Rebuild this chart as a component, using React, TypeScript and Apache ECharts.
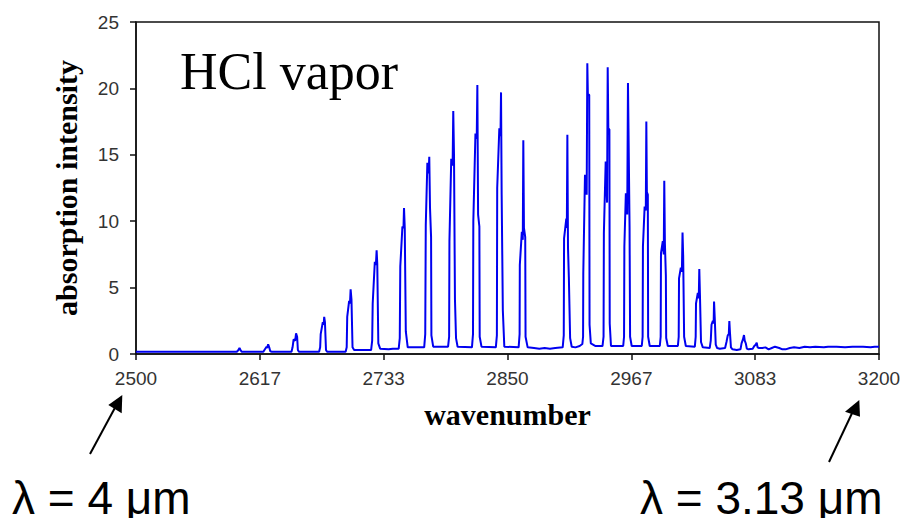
import React, { useEffect, useRef } from "react";
import * as echarts from "echarts";

// x ticks (wavenumber, cm^-1) and their printed labels
const xTickValues = [2500, 2616.667, 2733.333, 2850, 2966.667, 3083.333, 3200];
const xTickLabels = ["2500", "2617", "2733", "2850", "2967", "3083", "3200"];
const yTickValues = [0, 5, 10, 15, 20, 25];

// spectrum: [wavenumber, absorption intensity]
const lowWing: [number, number][] = [
  [2500, 0.17], [2595, 0.17],
  [2596.5, 0.3], [2597.5, 0.45], [2598.5, 0.3], [2599.5, 0.17],
  [2620, 0.17],
  [2621, 0.3], [2623, 0.55], [2623.5, 0.45], [2624.5, 0.73], [2625.5, 0.5], [2626.5, 0.2], [2628, 0.17],
  [2646.5, 0.17],
  [2647.5, 0.5], [2648.5, 1.1], [2650, 1.0], [2650.8, 1.56], [2651.8, 1.3], [2652.5, 0.3], [2653.5, 0.17],
  [2672.5, 0.17],
  [2673.5, 0.5], [2674, 1.5], [2676, 2.4], [2676.8, 2.2], [2677.3, 2.8], [2678, 2.4], [2679, 0.3], [2680, 0.17],
  [2697.5, 0.17],
];

const pBranch: [number, number][] = [
  [2698.5, 0.5], [2699, 2.8], [2700.8, 4.0], [2701.6, 3.8], [2702.2, 4.87], [2703, 4.1], [2704, 0.5], [2705.5, 0.3],
  [2721.5, 0.3],
  [2722.5, 1.0], [2723, 3.8], [2725, 6.95], [2726, 6.7], [2726.7, 7.8], [2727.3, 6.8], [2728.3, 0.8], [2730, 0.4],
  [2738, 0.35], [2742, 0.4], [2747.5, 0.4],
  [2748.5, 1.2], [2749, 6.6], [2751, 9.6], [2752, 9.5], [2752.5, 11.0], [2753.2, 9.5], [2754.2, 1.7], [2756, 0.5],
  [2771.5, 0.5],
  [2772.5, 1.5], [2773, 9.7], [2774.5, 14.4], [2775.7, 13.6], [2776.3, 14.85], [2777, 11], [2778, 8.8], [2778.3, 1.4], [2780, 0.55],
  [2794, 0.55],
  [2795, 1.3], [2795.3, 8.5], [2797, 14.7], [2798.3, 14.2], [2798.9, 18.3], [2799.6, 15], [2800.5, 4.1], [2801.5, 1.2], [2803, 0.55],
  [2816.5, 0.5],
  [2817.5, 1.5], [2817.8, 10], [2819.8, 16.6], [2821, 16.2], [2821.6, 20.25], [2822.3, 10.5], [2823.5, 9.6], [2823.8, 1.3], [2825.5, 0.55],
  [2839, 0.5],
  [2840, 1.4], [2840.3, 12.5], [2842.3, 17], [2843.4, 16.4], [2843.9, 19.7], [2844.5, 12], [2845.6, 3.3], [2847, 0.55],
  [2860.5, 0.5],
  [2861.4, 1.5], [2861.6, 6.7], [2863.5, 9.2], [2864.4, 8.6], [2864.9, 16.1], [2865.5, 9.5], [2866.7, 8.8], [2867, 1.3], [2869, 0.5],
];

const bandGap: [number, number][] = [
  [2875, 0.45], [2880, 0.4], [2885, 0.45], [2890, 0.4], [2895, 0.45], [2902, 0.5],
];

const rBranch: [number, number][] = [
  [2903, 1.4], [2903.3, 8.7], [2905.4, 10.2], [2905.9, 9.5], [2906.4, 16.5], [2907, 8], [2907.8, 5.8], [2909, 1.2], [2910.5, 0.55],
  [2914, 0.5], [2918, 0.6], [2920.5, 0.75],
  [2921.2, 1.3], [2921.4, 6.1], [2923, 13.5], [2924.6, 12], [2925.2, 21.9], [2925.7, 19.6], [2927, 19.5], [2927.3, 2.2], [2928.5, 0.8],
  [2933, 0.6], [2939.5, 0.6],
  [2940.5, 1.3], [2940.8, 9.1], [2942.5, 14.5], [2943.8, 11.4], [2944.4, 21.6], [2945, 17], [2946, 16.9], [2946.3, 2.3], [2947.5, 0.6],
  [2959, 0.6],
  [2959.8, 1.3], [2960.1, 8.1], [2961.5, 12.1], [2962.8, 10.5], [2963.5, 20.4], [2964, 16.9], [2965, 9.5], [2965.5, 1.3], [2967, 0.6],
  [2976.5, 0.6],
  [2977.3, 1.3], [2977.6, 8.1], [2979.2, 11.1], [2980.3, 10.8], [2980.8, 17.5], [2981.3, 12.2], [2982.2, 12], [2982.5, 1.3], [2984, 0.6],
  [2993.5, 0.6],
  [2994.3, 1.3], [2994.6, 7.6], [2996.3, 8.5], [2997.2, 7.5], [2997.7, 13.05], [2998.3, 8.3], [2999.2, 5.9], [2999.5, 1.2], [3001, 0.6],
  [3010.5, 0.6],
  [3011.3, 1.3], [3011.6, 5.7], [3013.3, 6.5], [3014.3, 6.2], [3014.9, 9.15], [3015.5, 7.4], [3016.4, 1.3], [3018, 0.6],
  [3026.5, 0.55],
  [3027.3, 1.3], [3027.6, 3.8], [3029.3, 4.6], [3030.2, 4.2], [3030.7, 6.4], [3031.3, 4.5], [3032.3, 0.9], [3034, 0.5],
  [3040.5, 0.45],
  [3041.5, 1.0], [3042.2, 2.2], [3043.5, 2.5], [3044.2, 2.3], [3044.6, 3.95], [3045.2, 2.8], [3046.2, 0.7], [3047.5, 0.45],
];

const highWing: [number, number][] = [
  [3050, 0.4], [3055, 0.45],
  [3056.3, 0.9], [3057.5, 1.4], [3058.5, 1.5], [3059, 2.48], [3059.6, 1.6], [3060.5, 0.5], [3062, 0.35],
  [3066, 0.3], [3069.5, 0.35],
  [3070.5, 0.8], [3071.8, 1.1], [3072.8, 1.43], [3073.5, 1.0], [3074.5, 0.8], [3075.5, 0.4], [3077, 0.35],
  [3081, 0.4],
  [3082.5, 0.6], [3083.8, 0.7], [3084.8, 0.85], [3085.6, 0.5], [3087, 0.45],
  [3090, 0.45], [3093, 0.5], [3096, 0.35], [3099, 0.45], [3102, 0.55], [3106, 0.45], [3109, 0.35], [3112, 0.35],
  [3116, 0.45], [3120, 0.5], [3125, 0.45], [3130, 0.55], [3135, 0.5], [3140, 0.55], [3148, 0.5], [3152, 0.55],
  [3160, 0.55], [3168, 0.5], [3175, 0.55], [3185, 0.55], [3192, 0.5], [3196, 0.55], [3200, 0.55],
];

const spectrum = [...lowWing, ...pBranch, ...bandGap, ...rBranch, ...highWing];

export default function App() {
  const ref = useRef<HTMLDivElement>(null);

  useEffect(() => {
    if (!ref.current) return;
    const chart = echarts.init(ref.current, null, { renderer: "svg" });
    const labelFont = "'Liberation Sans', Arial, sans-serif";
    const serif = "'Liberation Serif', 'Times New Roman', serif";
    chart.setOption({
      animation: false,
      backgroundColor: "#fff",
      grid: {
        left: 136,
        right: 37,
        top: 22,
        bottom: 172,
        show: true,
        borderColor: "#111",
        borderWidth: 1.5,
        containLabel: false,
        outerBoundsMode: "none",
      },
      xAxis: {
        type: "value",
        min: 2500,
        max: 3200,
        name: "wavenumber",
        nameLocation: "middle",
        nameGap: 45,
        nameTextStyle: { fontFamily: serif, fontWeight: "bold", fontSize: 30, color: "#000" },
        axisLine: { show: true, lineStyle: { color: "#111", width: 1.5 } },
        axisTick: { show: true, customValues: xTickValues, length: 6, lineStyle: { color: "#111", width: 1.5 } },
        axisLabel: {
          customValues: xTickValues,
          margin: 15,
          fontFamily: labelFont,
          fontSize: 19,
          color: "#333",
          formatter: (v: number) => {
            const i = xTickValues.findIndex((t) => Math.abs(t - v) < 0.01);
            return i >= 0 ? xTickLabels[i] : "";
          },
        },
        splitLine: { show: false },
      },
      yAxis: {
        type: "value",
        min: 0,
        max: 25,
        interval: 5,
        name: "absorption intensity",
        nameLocation: "middle",
        nameGap: 55,
        nameTextStyle: { fontFamily: serif, fontWeight: "bold", fontSize: 30, color: "#000" },
        axisLine: { show: true, lineStyle: { color: "#111", width: 1.5 } },
        axisTick: { show: true, customValues: yTickValues, length: 6, lineStyle: { color: "#111", width: 1.5 } },
        axisLabel: { margin: 17, fontFamily: labelFont, fontSize: 19, color: "#333" },
        splitLine: { show: false },
      },
      series: [
        {
          type: "line",
          data: spectrum,
          showSymbol: false,
          symbol: "none",
          lineStyle: { color: "#0000f0", width: 2 },
          clip: true,
        },
      ],
      graphic: [
        {
          type: "text",
          left: 180,
          top: 45,
          style: { text: "HCl vapor", font: `52px ${serif}`, fill: "#000" },
        },
        {
          type: "text",
          x: 12,
          y: 498,
          style: { text: "λ = 4 μm", font: `46px ${labelFont}`, fill: "#000", verticalAlign: "middle" },
        },
        {
          type: "text",
          x: 640,
          y: 498,
          style: { text: "λ = 3.13 μm", font: `46px ${labelFont}`, fill: "#000", verticalAlign: "middle" },
        },
        {
          type: "line",
          shape: { x1: 90, y1: 454, x2: 117, y2: 404 },
          style: { stroke: "#000", lineWidth: 2 },
        },
        {
          type: "polygon",
          shape: { points: [[122.3, 395], [108.3, 405], [121.7, 413.3]] },
          style: { fill: "#000" },
        },
        {
          type: "line",
          shape: { x1: 829, y1: 462, x2: 854, y2: 409 },
          style: { stroke: "#000", lineWidth: 2 },
        },
        {
          type: "polygon",
          shape: { points: [[859.3, 400], [845, 411.7], [860, 416.7]] },
          style: { fill: "#000" },
        },
      ],
    });
    return () => chart.dispose();
  }, []);

  return <div ref={ref} style={{ width: 916, height: 526, margin: -8 }} />;
}
